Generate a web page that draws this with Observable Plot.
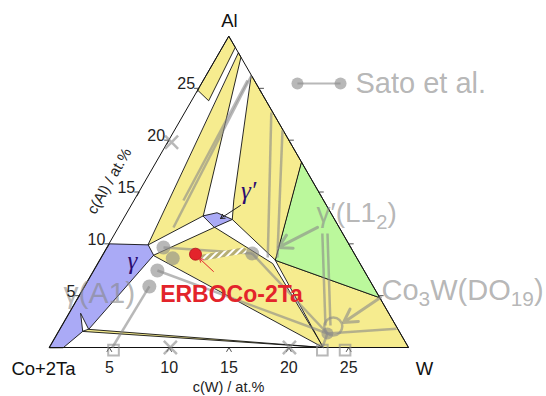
<!DOCTYPE html>
<html>
<head>
<meta charset="utf-8">
<script src="https://cdn.jsdelivr.net/npm/d3@7"></script>
<script src="https://cdn.jsdelivr.net/npm/@observablehq/plot@0.6"></script>
<style>
  body { margin: 0; background: #fff; }
  #chart { width: 546px; height: 396px; }
</style>
</head>
<body>
<div id="chart"></div>
<script>
const S = Math.sqrt(3) / 2;
// composition [c(W), c(Al)] in at.% -> cartesian plot units
const cart = ([w, a]) => ({x: w + a / 2, y: a * S});

const cornerLabels = ["Co+2Ta", "W", "Al"];
const tickValues = [5, 10, 15, 20, 25];
const axisMax = 30;

// phase fields, vertices as [c(W), c(Al)] in at.%
const gammaField = [[0, 0], [0, 10], [3.3, 9.9], [4.25, 8.9], [2.4, 1.75], [0.95, 3.3], [2.0, 1.55], [1.17, 0]];
const gammaPrimeField = [[6.5, 12.7], [7.5, 13.0], [9.1, 12.35], [8.0, 11.6]];
const greenField = [[12.15, 17.85], [25.2, 4.8], [14.7, 8.4]];
const alTipField = [[0, 30], [1.05, 28.95], [1.4, 23.8], [0, 24.8]];
const leftBandField = [[1.6, 28.4], [2.0, 28.0], [6.5, 12.7], [3.3, 9.9]];
const rightBandField = [[3.75, 26.25], [12.15, 17.85], [14.7, 8.4], [9.1, 12.35], [8.3, 14.2]];
const centreField = [[4.25, 8.9], [8.0, 11.6], [14.6, 8.1], [22.9, 0]];
const co3wField = [[14.7, 8.4], [25.2, 4.8], [30, 0], [22.9, 0]];
const baseSliver = [[2.4, 1.75], [22.9, 0], [2.0, 1.55]];

// ERBOCo-2Ta alloy and its phase compositions
const alloy = [7.7, 9.0];
const alloyTie = [[8.53, 8.68], [11.53, 9.36]];
const alloyGamma = [6.0, 8.6];

// Sato et al. data
const satoPoints = [[4.7, 9.65], [5.3, 7.43], [5.4, 5.89], [12.4, 9.07]];
const satoCo3W = [22.55, 1.35];
const satoCo3WRing = [22.7, 2.03];
const satoTies = [
  [[4.7, 9.65], [12.4, 9.07]],
  [[5.3, 7.43], [22.55, 1.35]],
  [[12.4, 9.07], [22.55, 1.35]],
  [[5.4, 5.89], [5.25, 0]],
  [[22.55, 1.35], [28.1, 1.8]],
  [[22.55, 1.35], [22.8, 0]],
  [[17.3, 11.0], [22.0, 2.12]],
  [[17.73, 11.0], [22.42, 2.12]],
  [[3.76, 26.24], [4.57, 11.58]],
  [[3.67, 25.76], [4.1, 14.18]],
  [[7.2, 22.67], [13.9, 8.68]],
  [[9.0, 20.94], [14.7, 8.68]]
];
const satoSquares = [5.35, 22.8, 24.7];
const satoCrosses = [[10.1, 0], [20.05, 0], [0.3, 19.8]];

const yellow = "#f6ec8f", blue = "#aaaaf6", green = "#bbf89c";
const grey = "#888", greyOp = 0.6;
const red = "#e3242b", purple = "#2b0b70";

const closed = (pts) => pts.map(cart);
const field = (pts, fill) => Plot.line(closed(pts), {x: "x", y: "y", curve: "linear-closed", fill, stroke: "#111", strokeWidth: 0.9});

// axis ticks drawn as small carets pointing out of the triangle
const L = 0.42;
const tickSegs = [];
for (const t of tickValues) {
  const b = cart([t, 0]);
  tickSegs.push([b, {x: b.x - 0.5 * L, y: b.y - S * L}], [b, {x: b.x + 0.5 * L, y: b.y - S * L}]);
  const l = cart([0, t]);
  tickSegs.push([l, {x: l.x - L, y: l.y}], [l, {x: l.x - 0.5 * L, y: l.y - S * L}]);
  const r = cart([axisMax - t, t]);
  tickSegs.push([r, {x: r.x + L, y: r.y}], [r, {x: r.x + 0.5 * L, y: r.y - S * L}]);
}

const frame = [[0, 0], [axisMax, 0], [0, axisMax]].map(cart);
const seg = (pairs) => pairs.map(([a, b]) => ({a: cart(a), b: cart(b)}));

const chart = Plot.plot({
  width: 546,
  height: 396,
  marginLeft: 49,
  marginRight: 138,
  marginTop: 36,
  marginBottom: 49,
  x: {domain: [0, axisMax], axis: null},
  y: {domain: [0, axisMax * S], axis: null},
  style: {fontFamily: "'Liberation Sans', Arial, sans-serif", background: "#fff", overflow: "visible"},
  marks: [
    field(alTipField, yellow),
    field(leftBandField, yellow),
    field(rightBandField, yellow),
    field(centreField, yellow),
    field(co3wField, yellow),
    field(baseSliver, yellow),
    field(greenField, green),
    field(gammaField, blue),
    field(gammaPrimeField, blue),

    // triangle frame
    Plot.line(frame, {x: "x", y: "y", curve: "linear-closed", stroke: "#111", strokeWidth: 1}),
    Plot.link(tickSegs, {x1: (d) => d[0].x, y1: (d) => d[0].y, x2: (d) => d[1].x, y2: (d) => d[1].y, stroke: "#222", strokeWidth: 0.8}),

    // Sato et al. overlay
    Plot.link(seg(satoTies), {x1: (d) => d.a.x, y1: (d) => d.a.y, x2: (d) => d.b.x, y2: (d) => d.b.y, stroke: grey, strokeOpacity: greyOp, strokeWidth: 2.5}),
    Plot.dot(satoPoints.map(cart), {x: "x", y: "y", r: 7, fill: grey, fillOpacity: greyOp}),
    Plot.dot([cart(alloyGamma)], {x: "x", y: "y", r: 7, fill: grey, fillOpacity: greyOp}),
    Plot.dot([cart(satoCo3W)], {x: "x", y: "y", r: 6, fill: grey, fillOpacity: greyOp}),
    Plot.dot([cart(satoCo3WRing)], {x: "x", y: "y", r: 9, stroke: grey, strokeOpacity: greyOp, strokeWidth: 2.5}),
    Plot.dot(satoSquares.map((w) => ({x: w, y: -0.22})), {x: "x", y: "y", r: 6, symbol: "square", stroke: grey, strokeOpacity: greyOp, strokeWidth: 2}),
    Plot.dot(satoCrosses.map(cart), {x: "x", y: "y", r: 6, symbol: "times", stroke: grey, strokeOpacity: greyOp, strokeWidth: 2.5}),
    Plot.arrow([{x1: 22.4, y1: 10.03, x2: 19.14, y2: 8.36}, {x1: 27.66, y1: 4.18, x2: 24.57, y2: 2.09}],
      {x1: "x1", y1: "y1", x2: "x2", y2: "y2", stroke: grey, strokeOpacity: greyOp, strokeWidth: 3, headLength: 14}),
    Plot.text([
      {x: 1.17, y: 4.48, t: "γ(A1)", s: 30},
      {x: 22.31, y: 11.2, t: "γ′(L1₂)", s: 28},
      {x: 27.74, y: 4.76, t: "Co₃W(DO₁₉)", s: 29},
      {x: 25.57, y: 22.0, t: "Sato et al.", s: 29}
    ], {x: "x", y: "y", text: "t", fontSize: (d) => d.s, textAnchor: "start", fill: grey, fillOpacity: 0.62}),
    Plot.link([{x1: 20.72, x2: 24.32, y: 22.06}], {x1: "x1", x2: "x2", y1: "y", y2: "y", stroke: grey, strokeOpacity: greyOp, strokeWidth: 2}),
    Plot.dot([{x: 20.72, y: 22.06}, {x: 24.32, y: 22.06}], {x: "x", y: "y", r: 6, fill: grey, fillOpacity: greyOp}),

    // ERBOCo-2Ta
    Plot.line(alloyTie.map(cart), {x: "x", y: "y", stroke: "url(#hatch)", strokeWidth: 6}),
    Plot.dot([cart(alloy)], {x: "x", y: "y", r: 6, fill: red, stroke: "#b01018", strokeWidth: 0.8}),
    Plot.arrow([{x1: 13.7, y1: 6.35, x2: 12.53, y2: 7.44}], {x1: "x1", y1: "y1", x2: "x2", y2: "y2", stroke: red, strokeWidth: 1, headLength: 6}),
    Plot.text([{x: 15.21, y: 4.38}], {x: "x", y: "y", text: () => "ERBOCo-2Ta", fontSize: 23, fontWeight: "bold", fill: red}),

    // phase names
    Plot.text([{x: 6.52, y: 7.24, t: "γ"}, {x: 16.0, y: 13.1, t: "γ′"}], {x: "x", y: "y", text: "t", fontSize: 25, fontStyle: "italic", fontFamily: "'Liberation Serif', serif", fill: purple, textAnchor: "start"}),
    Plot.arrow([{x1: 15.96, y1: 11.87, x2: 14.29, y2: 10.78}], {x1: "x1", y1: "y1", x2: "x2", y2: "y2", stroke: "#222", strokeWidth: 1, headLength: 7}),

    // tick labels
    Plot.text(tickValues, {x: (t) => t, y: -1.67, text: (t) => String(t), fontSize: 16, fill: "#222"}),
    Plot.text(tickValues, {x: (t) => cart([0, t]).x, y: (t) => cart([0, t]).y, text: (t) => String(t), fontSize: 16, fill: "#222", textAnchor: "end", dx: -4, dy: -4}),

    // corner and axis titles
    Plot.text([{x: -0.5, y: -1.84, t: cornerLabels[0]}, {x: 31.34, y: -1.84, t: cornerLabels[1]}, {x: 15.04, y: 27.3, t: cornerLabels[2]}],
      {x: "x", y: "y", text: "t", fontSize: 18.5, fill: "#111"}),
    Plot.text([{x: 14.96, y: -3.34}], {x: "x", y: "y", text: () => "c(W) / at.%", fontSize: 14.5, fill: "#222"}),
    Plot.text([{x: 5.0, y: 13.9}], {x: "x", y: "y", text: () => "c(Al) / at.%", fontSize: 15, fill: "#222", rotate: -60})
  ]
});

// diagonal hatch used for the ERBOCo-2Ta tie line
const defs = d3.select(chart).insert("defs", ":first-child");
const pat = defs.append("pattern").attr("id", "hatch").attr("patternUnits", "userSpaceOnUse")
  .attr("width", 5).attr("height", 5).attr("patternTransform", "rotate(45)");
pat.append("rect").attr("width", 5).attr("height", 5).attr("fill", "#b6ae74");
pat.append("rect").attr("width", 2).attr("height", 5).attr("fill", "#fff");

// typeset subscript digits as lowered, smaller tspans
const subDigits = "₀₁₂₃₄₅₆₇₈₉";
d3.select(chart).selectAll("text").each(function () {
  const s = this.textContent;
  if (![...s].some((c) => subDigits.includes(c))) return;
  const fs = parseFloat(this.getAttribute("font-size")) || 28;
  const shift = fs * 0.22;
  const parts = s.match(/[₀-₉]+|[^₀-₉]+/g);
  const el = d3.select(this).text(null);
  let lowered = false;
  for (const p of parts) {
    if (subDigits.includes(p[0])) {
      el.append("tspan").attr("font-size", fs * 0.72).attr("dy", shift)
        .text([...p].map((c) => subDigits.indexOf(c)).join(""));
      lowered = true;
    } else {
      el.append("tspan").attr("dy", lowered ? -shift : null).text(p);
      lowered = false;
    }
  }
});

document.getElementById("chart").appendChild(chart);
</script>
</body>
</html>
